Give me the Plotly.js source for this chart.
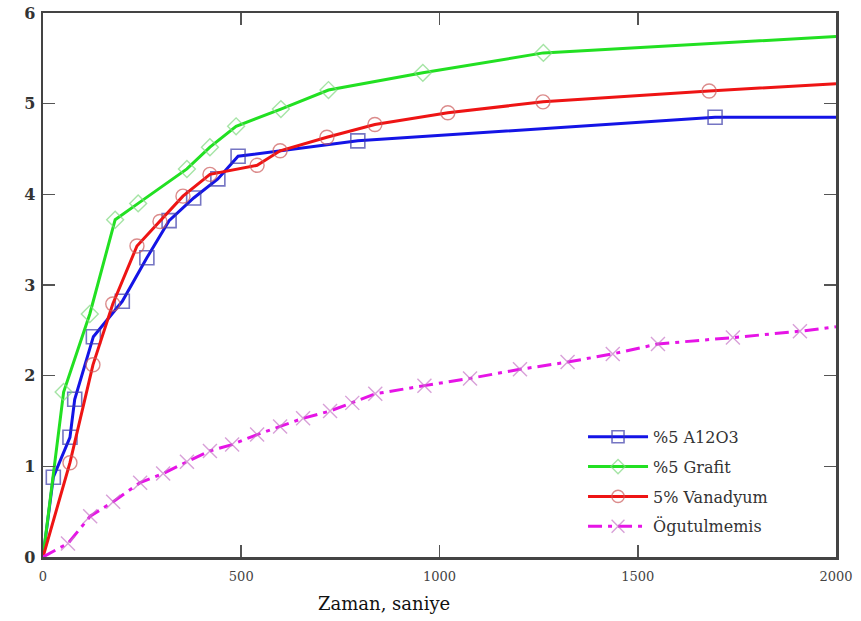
<!DOCTYPE html>
<html>
<head>
<meta charset="utf-8">
<script src="https://cdn.plot.ly/plotly-3.0.1.min.js"></script>
<style>html,body{margin:0;padding:0;background:#fff;}#chart{width:861px;height:621px;}</style>
</head>
<body>
<div id="chart"></div>
<script>
// Series names
const seriesNames = ["%5 A12O3", "%5 Grafit", "5% Vanadyum", "Ögutulmemis"];

// %5 Al2O3 (blue, squares)
const alX = [0, 26, 68, 80, 127, 200, 262, 318, 380, 441, 492, 794, 1695, 2000];
const alY = [0, 0.88, 1.32, 1.74, 2.43, 2.82, 3.30, 3.71, 3.96, 4.17, 4.42, 4.59, 4.85, 4.85];

// %5 Grafit (green, diamonds)
const grX = [0, 52, 118, 182, 240, 363, 421, 487, 600, 720, 958, 1262, 2000];
const grY = [0, 1.82, 2.68, 3.72, 3.90, 4.28, 4.52, 4.75, 4.94, 5.15, 5.34, 5.56, 5.74];

// 5% Vanadyum (red, circles)
const vaX = [0, 68, 126, 176, 237, 295, 353, 421, 540, 598, 716, 837, 1021, 1261, 1680, 2000];
const vaY = [0, 1.04, 2.12, 2.79, 3.43, 3.70, 3.98, 4.22, 4.32, 4.48, 4.63, 4.77, 4.90, 5.02, 5.14, 5.22];

// Ögutulmemis (magenta, x)
const ogX = [0, 63, 119, 177, 245, 303, 363, 421, 477, 540, 598, 656, 724, 780, 838, 962, 1077, 1203, 1323, 1437, 1551, 1740, 1909, 2000];
const ogY = [0, 0.15, 0.45, 0.61, 0.82, 0.92, 1.05, 1.17, 1.24, 1.35, 1.44, 1.53, 1.61, 1.70, 1.80, 1.89, 1.97, 2.07, 2.15, 2.24, 2.35, 2.42, 2.49, 2.54];

// axis ticks and title
const xTicks = [0, 500, 1000, 1500, 2000];
const yTicks = [0, 1, 2, 3, 4, 5, 6];
const xTitle = "Zaman, saniye";

const SERIF = "DejaVu Serif";

// markers only on interior points (not the origin point or the 2000 end)
function sizes(xs, s) {
  return xs.map((v, i) => (i === 0 || i === xs.length - 1) ? 0 : s);
}

const traces = [
  {
    x: alX, y: alY, name: seriesNames[0], mode: "lines+markers", legendgroup: "a",
    line: {color: "#1414e6", width: 3},
    marker: {symbol: "square-open", size: sizes(alX, 14), color: "#3a3aaa", line: {width: 1.6, color: "#3a3aaa"}}
  },
  {
    x: grX, y: grY, name: seriesNames[1], mode: "lines+markers", legendgroup: "b",
    line: {color: "#22e022", width: 3},
    marker: {symbol: "diamond-open", size: sizes(grX, 13), color: "#7fd87f", line: {width: 1.4, color: "#7fd87f"}}
  },
  {
    x: vaX, y: vaY, name: seriesNames[2], mode: "lines+markers", legendgroup: "c",
    line: {color: "#ee1414", width: 3},
    marker: {symbol: "circle-open", size: sizes(vaX, 14), color: "#cc5a5a", line: {width: 1.4, color: "#cc5a5a"}}
  },
  {
    x: ogX, y: ogY, name: seriesNames[3], mode: "lines+markers", legendgroup: "d",
    line: {color: "#e614e6", width: 3, dash: "14px,6px,4px,6px"},
    marker: {symbol: "x-thin-open", size: sizes(ogX, 14), color: "#c878c8", line: {width: 1.4, color: "#c878c8"}}
  }
];

const axisCommon = {
  showgrid: false, zeroline: false,
  showline: true, linecolor: "#444", linewidth: 2.5, mirror: "ticks",
  ticks: "inside", ticklen: 12, tickwidth: 1.6, tickcolor: "#555"
};

const layout = {
  width: 861, height: 621,
  margin: {l: 43, r: 25, t: 13, b: 64},
  paper_bgcolor: "#fff", plot_bgcolor: "#fff",
  font: {family: SERIF},
  showlegend: true,
  xaxis: Object.assign({}, axisCommon, {
    range: [0, 2000], tickvals: xTicks, ticktext: xTicks.map(String),
    tickfont: {family: SERIF, size: 13, color: "#444"},
    ticklabelstandoff: 6
  }),
  yaxis: Object.assign({}, axisCommon, {
    range: [0, 6], tickvals: yTicks, ticktext: yTicks.map(String),
    tickfont: {family: SERIF, size: 16, color: "#333", weight: "bold"},
    ticklabelstandoff: 2
  }),
  legend: {
    x: 0.681, y: 0.252, xanchor: "left", yanchor: "top",
    bgcolor: "rgba(255,255,255,0)", borderwidth: 0,
    traceorder: "grouped", tracegroupgap: 6,
    itemwidth: 60,
    font: {family: SERIF, size: 16, color: "#333"}
  },
  annotations: [{
    text: xTitle, xref: "paper", yref: "paper", x: 0.43, y: 0, yshift: -46,
    xanchor: "center", yanchor: "middle", showarrow: false,
    font: {family: SERIF, size: 18, color: "#111"}
  }]
};

Plotly.newPlot("chart", traces, layout, {displayModeBar: false, staticPlot: true});
</script>
</body>
</html>
